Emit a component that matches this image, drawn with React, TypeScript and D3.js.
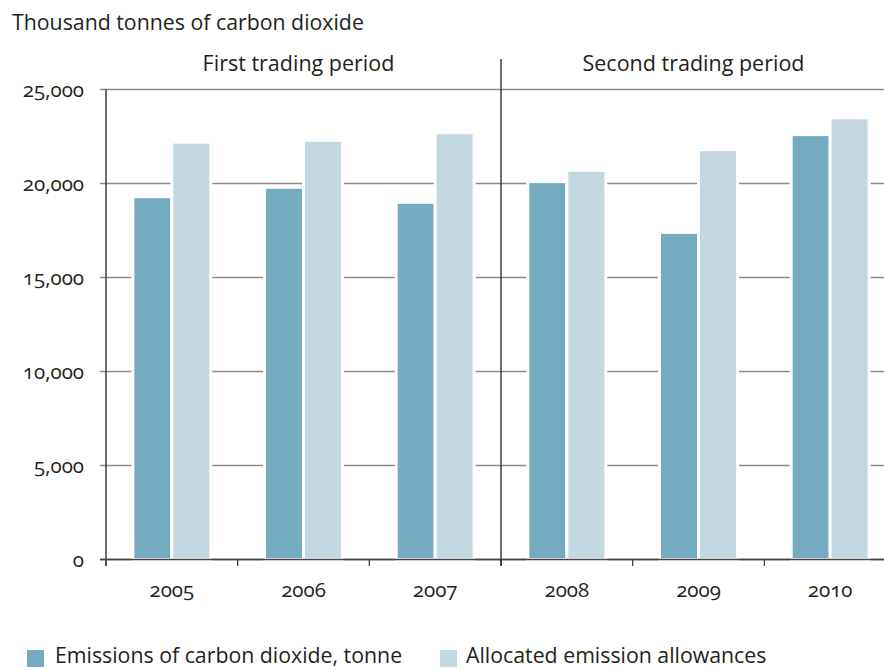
import React from "react";
import * as d3 from "d3";

const years = ["2005", "2006", "2007", "2008", "2009", "2010"];
const seriesNames = ["Emissions of carbon dioxide, tonne", "Allocated emission allowances"];
const emissions = [19300, 19800, 19000, 20100, 17400, 22600];
const allowances = [22200, 22300, 22700, 20700, 21800, 23500];
const yTicks = [0, 5000, 10000, 15000, 20000, 25000];
const periods = ["First trading period", "Second trading period"];
const colors = ["#74abc0", "#c4d8e2"];

const W = 884;
const H = 670;
const FONT = "'Open Sans', sans-serif";
const TEXT = "#231f20";

export default function App() {
  const x0 = d3.scaleBand<string>().domain(years).range([106, 896]).paddingInner(0).paddingOuter(0);
  const bw = x0.bandwidth();
  const x1 = d3
    .scaleBand<string>()
    .domain(["e", "a"])
    .range([bw / 2 - 39, bw / 2 + 39])
    .paddingInner(0);
  const y = d3.scaleLinear().domain([0, 25000]).range([559.5, 89.5]);
  const fmt = d3.format(",");
  const values = [emissions, allowances];
  const divX = x0("2008")!;

  return (
    <svg
      width={W}
      height={H}
      style={{ position: "absolute", left: 0, top: 0, fontFamily: FONT }}
    >
      <rect x={0} y={0} width={W} height={H} fill="#fff" />
      <text x={12} y={30} fontSize={21.3} fill={TEXT}>
        Thousand tonnes of carbon dioxide
      </text>
      {yTicks.map((t) => (
        <line
          key={t}
          x1={100}
          x2={W}
          y1={y(t)}
          y2={y(t)}
          stroke={t === 0 ? "#444" : "#8a8a8a"}
          strokeWidth={1.4}
        />
      ))}
      {yTicks.map((t) => (
        <text
          key={"l" + t}
          x={84}
          y={y(t) + 7}
          fontSize={20.5}
          textAnchor="end"
          fill={TEXT}
          style={{ fontVariantNumeric: "oldstyle-nums" }}
        >
          {fmt(t)}
        </text>
      ))}
      {years.map((yr, i) => (
        <g key={yr} transform={`translate(${x0(yr)},0)`}>
          {values.map((vals, s) => (
            <rect
              key={s}
              x={x1(s === 0 ? "e" : "a")}
              y={y(vals[i])}
              width={x1.bandwidth()}
              height={y(0) - y(vals[i])}
              fill={colors[s]}
              stroke="#fff"
              strokeWidth={3}
            />
          ))}
        </g>
      ))}
      <line x1={106} x2={106} y1={89.5} y2={566} stroke="#222" strokeWidth={1.3} />
      <line x1={100} x2={W} y1={y(0)} y2={y(0)} stroke="#444" strokeWidth={1.4} />
      {years.map((yr) => (
        <line
          key={"t" + yr}
          x1={x0(yr)}
          x2={x0(yr)}
          y1={y(0)}
          y2={566}
          stroke="#444"
          strokeWidth={1.3}
        />
      ))}
      <line x1={divX} x2={divX} y1={59} y2={566} stroke="#222" strokeWidth={1.3} />
      <text x={(106 + divX) / 2 - 5} y={71} fontSize={21.5} textAnchor="middle" fill={TEXT}>
        {periods[0]}
      </text>
      <text x={(divX + W) / 2 + 1} y={71} fontSize={21.5} textAnchor="middle" fill={TEXT}>
        {periods[1]}
      </text>
      {years.map((yr) => (
        <text
          key={"x" + yr}
          x={x0(yr)! + bw / 2}
          y={597}
          fontSize={20.5}
          textAnchor="middle"
          fill={TEXT}
          style={{ fontVariantNumeric: "oldstyle-nums" }}
        >
          {yr}
        </text>
      ))}
      <rect x={27} y={650} width={17} height={17} fill={colors[0]} />
      <text x={55} y={663} fontSize={21.3} fill={TEXT}>
        {seriesNames[0]}
      </text>
      <rect x={440} y={650} width={17} height={17} fill={colors[1]} />
      <text x={466} y={663} fontSize={21.3} fill={TEXT}>
        {seriesNames[1]}
      </text>
    </svg>
  );
}
